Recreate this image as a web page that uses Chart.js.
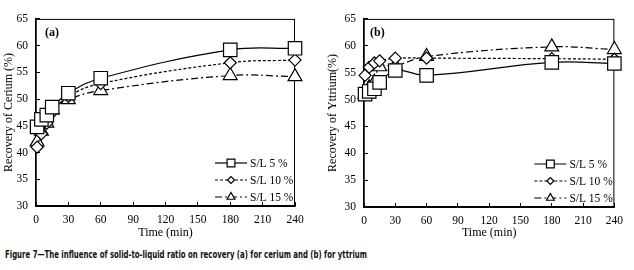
<!DOCTYPE html>
<html>
<head>
<meta charset="utf-8">
<script src="https://cdn.jsdelivr.net/npm/chart.js@4.4.1/dist/chart.umd.min.js"></script>
<style>
  body { margin: 0; background: #fff; width: 634px; height: 270px; position: relative; overflow: hidden; }
  canvas { position: absolute; top: 0; }
  #caption {
    position: absolute; left: 5px; top: 248px; white-space: nowrap;
    font-family: "DejaVu Sans Condensed", "DejaVu Sans", sans-serif; font-stretch: condensed;
    font-weight: bold; font-size: 10.5px; line-height: 13px; color: #111;
    transform-origin: 0 0;
  }
</style>
</head>
<body>
<canvas id="ceriumChart" width="317" height="245" style="left:0"></canvas>
<canvas id="yttriumChart" width="317" height="245" style="left:317px"></canvas>
<div id="caption">Figure 7—The influence of solid-to-liquid ratio on recovery (a) for cerium and (b) for yttrium</div>
<script>
// Sampling times (min)
const times = [1, 5, 10, 15, 30, 60, 180, 240];
const seriesLabels = ['S/L 5 %', 'S/L 10 %', 'S/L 15 %'];

// Recovery of cerium (%)
const ceriumSL5 = [44.8, 46.2, 47.0, 48.5, 51.1, 53.9, 59.2, 59.5];
const ceriumSL10 = [41.0, 43.5, 45.5, 47.5, 50.5, 52.9, 56.8, 57.3];
const ceriumSL15 = [42.0, 44.0, 45.5, 48.0, 49.9, 51.6, 54.4, 54.2];

// Recovery of yttrium (%)
const yttriumSL5 = [51.0, 51.5, 52.0, 53.2, 55.4, 54.5, 56.9, 56.7];
const yttriumSL10 = [54.5, 56.0, 56.8, 57.2, 57.7, 57.7, 57.6, 57.5];
const yttriumSL15 = [51.0, 52.2, 53.2, 56.1, 56.3, 58.0, 59.8, 59.3];

const serif = '"Liberation Serif", "Times New Roman", serif';

// marker / line style per series
const styles = [
  { pointStyle: 'rect', radius: 9.5, legendRadius: 5.5, dash: [] },
  { pointStyle: 'rectRot', radius: 6, legendRadius: 3.5, dash: [3, 2] },
  { pointStyle: 'triangle', radius: 8, legendRadius: 4.5, dash: [7, 3, 2, 3] }
];

function makeDatasets(values) {
  return values.map((vals, i) => ({
    label: seriesLabels[i],
    data: times.map((t, j) => ({ x: t, y: vals[j] })),
    borderColor: '#000',
    borderWidth: 1.2,
    borderDash: styles[i].dash,
    tension: 0.4,
    pointStyle: styles[i].pointStyle,
    pointRadius: styles[i].radius,
    pointBackgroundColor: '#fff',
    pointBorderColor: '#000',
    pointBorderWidth: 1.2,
    clip: false
  }));
}

// frame around the plot area (top and right sides)
const frame = {
  id: 'frame',
  beforeDatasetsDraw(chart) {
    const { ctx, chartArea } = chart;
    ctx.save();
    ctx.strokeStyle = '#000';
    ctx.lineWidth = 1;
    ctx.strokeRect(chartArea.left, chartArea.top + 0.5, chartArea.right - chartArea.left - 0.5, chartArea.bottom - chartArea.top);
    ctx.restore();
  }
};

// legend with line samples, drawn inside the plot
const lineLegend = {
  id: 'lineLegend',
  afterDraw(chart, args, opts) {
    const { ctx, chartArea } = chart;
    ctx.save();
    // panel letter
    ctx.font = 'bold 12px ' + serif;
    ctx.fillStyle = '#000';
    ctx.textBaseline = 'middle';
    ctx.fillText(opts.panel, chartArea.left + opts.panelDx, chartArea.top + 14);

    chart.data.datasets.forEach((ds, i) => {
      const y = chartArea.bottom - 43 + i * 17;
      const x0 = chartArea.right - 80;
      const x1 = chartArea.right - 48;
      ctx.strokeStyle = '#000';
      ctx.lineWidth = 1.2;
      ctx.setLineDash(styles[i].dash);
      ctx.beginPath();
      ctx.moveTo(x0, y);
      ctx.lineTo(x1, y);
      ctx.stroke();
      ctx.setLineDash([]);
      ctx.fillStyle = '#fff';
      Chart.helpers.drawPoint(ctx, {
        pointStyle: styles[i].pointStyle, radius: styles[i].legendRadius, rotation: 0, borderWidth: 1.2
      }, (x0 + x1) / 2, y);
      ctx.fillStyle = '#000';
      ctx.font = '11.5px ' + serif;
      ctx.textBaseline = 'middle';
      ctx.fillText(ds.label, chartArea.right - 45, y + 0.5);
    });
    ctx.restore();
  }
};

function makeChart(id, values, yTitle, panel, geom) {
  const ctx = document.getElementById(id).getContext('2d');
  return new Chart(ctx, {
    type: 'line',
    data: { datasets: makeDatasets(values) },
    options: {
      responsive: false,
      animation: false,
      devicePixelRatio: 1,
      layout: { padding: { left: 0, top: 11, right: geom.right, bottom: 0 } },
      plugins: {
        legend: { display: false },
        tooltip: { enabled: false },
        lineLegend: { panel: panel, panelDx: geom.panelDx }
      },
      scales: {
        x: {
          type: 'linear', min: 0, max: 240,
          afterFit(axis) { axis.height = geom.xHeight; },
          border: { color: '#000', width: 1.5 },
          grid: { drawOnChartArea: false, color: '#000', tickLength: -4, tickWidth: 1 },
          ticks: { stepSize: 30, color: '#000', padding: 11, font: { family: serif, size: 11.5 } },
          title: { display: true, text: 'Time (min)', color: '#000', padding: { top: 0, bottom: 5 }, font: { family: serif, size: 12 } }
        },
        y: {
          min: 30, max: 65,
          afterFit(axis) { axis.width = geom.yWidth; },
          border: { color: '#000', width: 1.5 },
          grid: { drawOnChartArea: false, color: '#000', tickLength: -4, tickWidth: 1 },
          ticks: { stepSize: 5, color: '#000', padding: 12, font: { family: serif, size: 11.5 } },
          title: { display: true, text: yTitle, color: '#000', padding: { top: geom.titlePad, bottom: 0 }, font: { family: serif, size: 12 } }
        }
      }
    },
    plugins: [frame, lineLegend]
  });
}

makeChart('ceriumChart', [ceriumSL5, ceriumSL10, ceriumSL15], 'Recovery of Cerium (%)', '(a)',
  { right: 22, yWidth: 36, xHeight: 39, titlePad: 2, panelDx: 9 });
makeChart('yttriumChart', [yttriumSL5, yttriumSL10, yttriumSL15], 'Recovery of Yttrium(%)', '(b)',
  { right: 12, yWidth: 47, xHeight: 38, titlePad: 9, panelDx: 6 });

// squeeze the caption to the reference width
const cap = document.getElementById('caption');
const w = cap.getBoundingClientRect().width;
cap.style.transform = 'scaleX(' + (362 / w) + ')';
</script>
</body>
</html>
